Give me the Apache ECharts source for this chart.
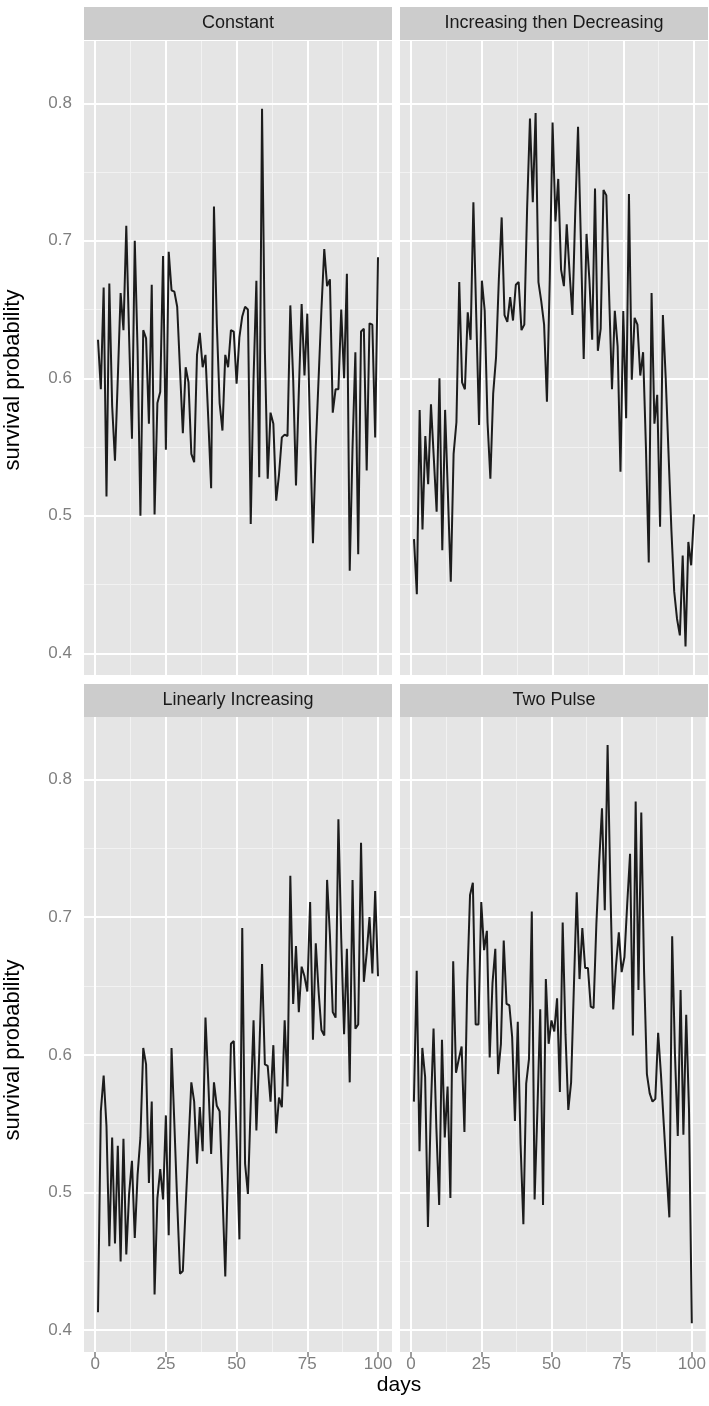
<!DOCTYPE html>
<html><head><meta charset="utf-8">
<script src="https://cdn.jsdelivr.net/npm/echarts@6/dist/echarts.min.js"></script>
<style>html,body{margin:0;padding:0;background:#fff}#c{width:709px;height:1406px}</style>
</head><body><div id="c"></div>
<script>
const days = [1,2,3,4,5,6,7,8,9,10,11,12,13,14,15,16,17,18,19,20,21,22,23,24,25,26,27,28,29,30,31,32,33,34,35,36,37,38,39,40,41,42,43,44,45,46,47,48,49,50,51,52,53,54,55,56,57,58,59,60,61,62,63,64,65,66,67,68,69,70,71,72,73,74,75,76,77,78,79,80,81,82,83,84,85,86,87,88,89,90,91,92,93,94,95,96,97,98,99,100];

const facetNames = ['Constant', 'Increasing then Decreasing', 'Linearly Increasing', 'Two Pulse'];

const constant = [0.628,0.592,0.666,0.514,0.669,0.580,0.540,0.600,0.662,0.635,0.711,0.630,0.556,0.700,0.620,0.500,0.635,0.629,0.567,0.668,0.501,0.582,0.590,0.689,0.548,0.692,0.664,0.663,0.652,0.606,0.560,0.608,0.597,0.545,0.539,0.617,0.633,0.608,0.617,0.570,0.520,0.725,0.640,0.582,0.562,0.617,0.608,0.635,0.634,0.596,0.630,0.645,0.652,0.650,0.494,0.600,0.671,0.528,0.796,0.620,0.527,0.575,0.567,0.511,0.530,0.557,0.559,0.558,0.653,0.600,0.522,0.590,0.654,0.602,0.647,0.560,0.480,0.550,0.600,0.650,0.694,0.667,0.672,0.575,0.592,0.592,0.650,0.600,0.676,0.460,0.550,0.619,0.472,0.634,0.636,0.533,0.640,0.639,0.557,0.688];

const incDec = [0.483,0.443,0.577,0.490,0.558,0.523,0.581,0.542,0.503,0.600,0.475,0.577,0.515,0.452,0.545,0.568,0.670,0.597,0.592,0.648,0.628,0.728,0.646,0.566,0.671,0.649,0.568,0.527,0.589,0.615,0.672,0.717,0.646,0.641,0.659,0.642,0.668,0.670,0.635,0.639,0.724,0.789,0.728,0.793,0.670,0.656,0.639,0.583,0.672,0.786,0.714,0.745,0.679,0.667,0.712,0.677,0.646,0.720,0.783,0.700,0.614,0.705,0.672,0.628,0.738,0.620,0.636,0.737,0.733,0.660,0.592,0.649,0.623,0.532,0.649,0.571,0.734,0.599,0.644,0.639,0.602,0.619,0.550,0.466,0.662,0.567,0.588,0.492,0.646,0.600,0.545,0.490,0.445,0.425,0.413,0.471,0.405,0.481,0.464,0.501];

const linear = [0.413,0.559,0.585,0.548,0.461,0.540,0.463,0.534,0.450,0.539,0.455,0.499,0.523,0.467,0.513,0.540,0.605,0.593,0.507,0.566,0.426,0.496,0.517,0.495,0.556,0.469,0.605,0.550,0.493,0.441,0.443,0.490,0.535,0.580,0.566,0.521,0.562,0.530,0.627,0.580,0.528,0.580,0.563,0.559,0.500,0.439,0.520,0.608,0.610,0.540,0.466,0.692,0.521,0.499,0.564,0.625,0.545,0.600,0.666,0.593,0.592,0.566,0.607,0.543,0.569,0.562,0.625,0.577,0.730,0.637,0.679,0.631,0.664,0.657,0.646,0.711,0.611,0.681,0.646,0.618,0.614,0.727,0.687,0.631,0.627,0.771,0.685,0.615,0.677,0.580,0.727,0.619,0.622,0.754,0.653,0.674,0.700,0.659,0.719,0.657];

const twoPulse = [0.566,0.661,0.530,0.605,0.584,0.475,0.558,0.619,0.547,0.491,0.611,0.540,0.577,0.496,0.668,0.587,0.597,0.606,0.544,0.652,0.716,0.725,0.622,0.622,0.711,0.676,0.690,0.598,0.652,0.677,0.586,0.608,0.683,0.637,0.636,0.613,0.552,0.624,0.535,0.477,0.579,0.597,0.704,0.495,0.560,0.633,0.491,0.655,0.608,0.625,0.617,0.641,0.573,0.696,0.615,0.560,0.580,0.650,0.718,0.655,0.692,0.663,0.663,0.635,0.634,0.695,0.740,0.779,0.705,0.825,0.720,0.633,0.665,0.689,0.660,0.671,0.710,0.746,0.614,0.784,0.647,0.776,0.660,0.586,0.572,0.566,0.568,0.616,0.586,0.550,0.515,0.482,0.686,0.600,0.541,0.647,0.542,0.629,0.560,0.405];

const xTicks = [0, 25, 50, 75, 100];
const xMinor = [12.5, 37.5, 62.5, 87.5];
const yTicks = [0.4, 0.5, 0.6, 0.7, 0.8];
const yMinor = [0.45, 0.55, 0.65, 0.75];

const seriesValues = [constant, incDec, linear, twoPulse];

const FONT = 'Liberation Sans, Arial, Helvetica, sans-serif';
const grids = [
  {left: 84, top: 41, width: 308, height: 634},
  {left: 400, top: 41, width: 308, height: 634},
  {left: 84, top: 717, width: 308, height: 635},
  {left: 400, top: 717, width: 308, height: 635}
];
const stripTops = [7, 7, 684, 684];
const stripH = 33;

const chart = echarts.init(document.getElementById('c'), null, {renderer: 'canvas'});

const xAxis = grids.map((g, i) => {
  const bottom = i >= 2;
  return {
    gridIndex: i, type: 'value', min: -3.95, max: 104.95,
    splitLine: {show: false}, axisLine: {show: false},
    axisTick: {show: bottom, customValues: xTicks, length: 5, lineStyle: {color: '#7F7F7F', width: 1.5}},
    axisLabel: {show: bottom, customValues: xTicks, color: '#7F7F7F', fontSize: 17, fontFamily: FONT, margin: 4}
  };
});
const yAxis = grids.map((g, i) => {
  const left = i % 2 === 0;
  return {
    gridIndex: i, type: 'value', min: 0.3842, max: 0.8453,
    splitLine: {show: false}, axisLine: {show: false},
    axisTick: {show: left, customValues: yTicks, length: 6, lineStyle: {color: '#7F7F7F', width: 1.5}},
    axisLabel: {show: left, customValues: yTicks, color: '#7F7F7F', fontSize: 17, fontFamily: FONT, margin: 12,
      formatter: v => v.toFixed(1)}
  };
});

const series = [];
grids.forEach((g, i) => {
  const ml = [];
  xMinor.forEach(v => ml.push({xAxis: v, lineStyle: {color: '#F2F2F2', width: 1, type: 'solid'}}));
  yMinor.forEach(v => ml.push({yAxis: v, lineStyle: {color: '#F2F2F2', width: 1, type: 'solid'}}));
  xTicks.forEach(v => ml.push({xAxis: v, lineStyle: {color: '#FFFFFF', width: 2, type: 'solid'}}));
  yTicks.forEach(v => ml.push({yAxis: v, lineStyle: {color: '#FFFFFF', width: 2, type: 'solid'}}));
  series.push({
    type: 'line', xAxisIndex: i, yAxisIndex: i, data: [], z: 1, silent: true,
    markLine: {silent: true, symbol: ['none', 'none'], label: {show: false}, animation: false, z: 1, data: ml}
  });
  series.push({
    type: 'line', xAxisIndex: i, yAxisIndex: i, z: 3,
    name: facetNames[i],
    data: days.map((d, k) => [d, seriesValues[i][k]]),
    showSymbol: false, symbol: 'none',
    lineStyle: {color: '#1C1C1C', width: 2},
    animation: false
  });
});

const graphic = [];
grids.forEach((g, i) => {
  graphic.push({type: 'rect', shape: {x: g.left, y: stripTops[i], width: g.width, height: stripH},
    style: {fill: '#CCCCCC'}, silent: true});
  graphic.push({type: 'text', x: g.left + g.width / 2, y: stripTops[i] + stripH / 2,
    style: {text: facetNames[i], font: '18px ' + FONT, fill: '#1A1A1A', align: 'center', verticalAlign: 'middle'}, silent: true});
});
graphic.push({type: 'text', x: 13, y: 380, rotation: Math.PI / 2,
  style: {text: 'survival probability', font: '22px ' + FONT, fill: '#000', align: 'center', verticalAlign: 'middle'}});
graphic.push({type: 'text', x: 13, y: 1050, rotation: Math.PI / 2,
  style: {text: 'survival probability', font: '22px ' + FONT, fill: '#000', align: 'center', verticalAlign: 'middle'}});
graphic.push({type: 'text', x: 399, y: 1385,
  style: {text: 'days', font: '21px ' + FONT, fill: '#000', align: 'center', verticalAlign: 'middle'}});

chart.setOption({
  animation: false,
  backgroundColor: '#FFFFFF',
  grid: grids.map(g => Object.assign({show: true, backgroundColor: '#E5E5E5', borderWidth: 0, containLabel: false}, g)),
  xAxis, yAxis, series, graphic
});
</script></body></html>
